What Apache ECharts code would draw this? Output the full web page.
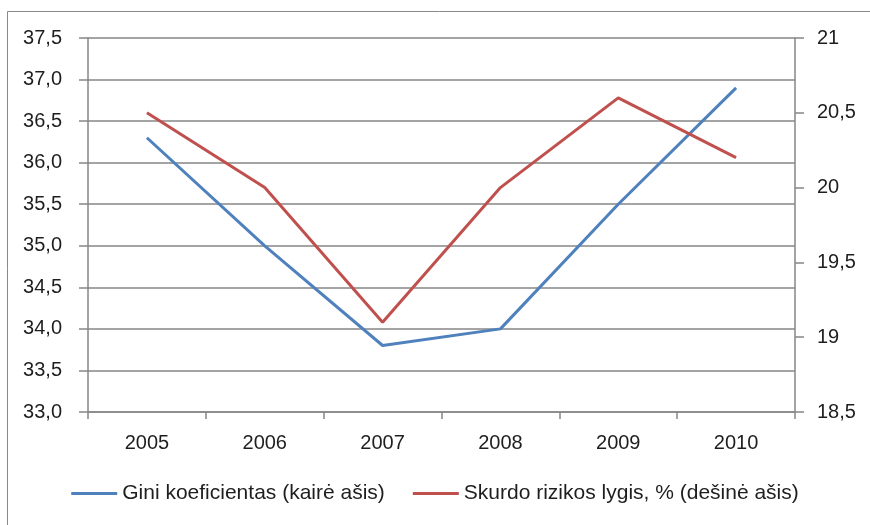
<!DOCTYPE html>
<html>
<head>
<meta charset="utf-8">
<script src="https://cdn.jsdelivr.net/npm/echarts@6/dist/echarts.min.js"></script>
<style>
  html, body { margin: 0; padding: 0; background: #fff; }
  #chart { width: 870px; height: 525px; }
</style>
</head>
<body>
<div id="chart"></div>
<script>
const years = ['2005', '2006', '2007', '2008', '2009', '2010']
const gini = [36.3, 35.0, 33.8, 34.0, 35.5, 36.9]
const poverty = [20.5, 20.0, 19.1, 20.0, 20.6, 20.2]

const fontFamily = 'Liberation Sans, Arial, sans-serif'
const commaFmt = (digits) => (v) => (digits == null ? String(v) : v.toFixed(digits)).replace('.', ',')

const chart = echarts.init(document.getElementById('chart'))

chart.setOption({
  animation: false,
  textStyle: { fontFamily },
  graphic: [{
    type: 'rect',
    shape: { x: 7.5, y: 11.5, width: 900, height: 600 },
    style: { fill: 'none', stroke: '#898989', lineWidth: 1 },
    silent: true
  }],
  grid: { left: 88, right: 75, top: 38, bottom: 113 },
  legend: {
    bottom: 16,
    left: 'center',
    itemWidth: 46,
    itemHeight: 3,
    itemGap: 28,
    icon: 'rect',
    textStyle: { fontSize: 21, color: '#1e1e1e', fontFamily },
    data: ['Gini koeficientas (kairė ašis)', 'Skurdo rizikos lygis, % (dešinė ašis)']
  },
  xAxis: {
    type: 'category',
    data: years,
    boundaryGap: true,
    axisLine: { lineStyle: { color: '#868686', width: 1.5 } },
    axisTick: { show: true, length: 7, lineStyle: { color: '#868686', width: 1.5 } },
    axisLabel: { fontSize: 20, color: '#1e1e1e', margin: 21 }
  },
  yAxis: [
    {
      type: 'value',
      min: 33,
      max: 37.5,
      interval: 0.5,
      axisLine: { show: true, lineStyle: { color: '#868686', width: 1.5 } },
      axisTick: { show: true, length: 9, lineStyle: { color: '#868686', width: 1.5 } },
      splitLine: { show: true, lineStyle: { color: '#868686', width: 1.5 } },
      axisLabel: { fontSize: 20, color: '#1e1e1e', margin: 26, formatter: commaFmt(1) }
    },
    {
      type: 'value',
      position: 'right',
      min: 18.5,
      max: 21,
      interval: 0.5,
      axisLine: { show: true, lineStyle: { color: '#868686', width: 1.5 } },
      axisTick: { show: true, length: 9, lineStyle: { color: '#868686', width: 1.5 } },
      splitLine: { show: false },
      axisLabel: { fontSize: 20, color: '#1e1e1e', margin: 22, formatter: commaFmt() }
    }
  ],
  series: [
    {
      name: 'Gini koeficientas (kairė ašis)',
      type: 'line',
      yAxisIndex: 0,
      data: gini,
      showSymbol: false,
      color: '#4F81BD',
      lineStyle: { width: 3, color: '#4F81BD' }
    },
    {
      name: 'Skurdo rizikos lygis, % (dešinė ašis)',
      type: 'line',
      yAxisIndex: 1,
      data: poverty,
      showSymbol: false,
      color: '#C0504D',
      lineStyle: { width: 3, color: '#C0504D' }
    }
  ]
})
</script>
</body>
</html>
